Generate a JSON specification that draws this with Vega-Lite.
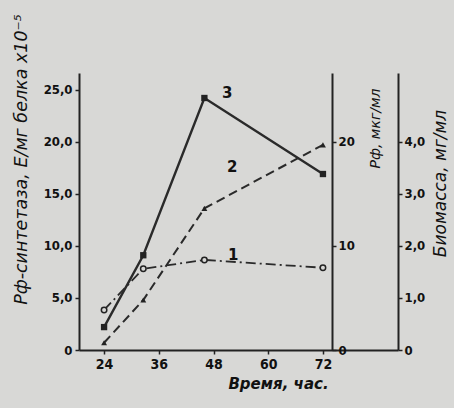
{
  "$schema": "https://vega.github.io/schema/vega-lite/v6.json",
  "width": 319,
  "height": 277,
  "autosize": {"type": "none"},
  "padding": {"left": 79, "top": 73, "right": 56, "bottom": 58},
  "background": "#d8d8d6",
  "config": {
    "view": {"stroke": null},
    "axis": {
      "grid": false,
      "domainColor": "#222222",
      "tickColor": "#222222",
      "labelColor": "#111111",
      "titleColor": "#111111",
      "labelFont": "DejaVu Sans Condensed",
      "titleFont": "DejaVu Sans",
      "labelFontWeight": "bold",
      "domainWidth": 2,
      "tickWidth": 1.5
    }
  },
  "encoding": {
    "x": {
      "field": "t",
      "type": "quantitative",
      "scale": {"domain": [18.5, 88.46], "nice": false, "zero": false},
      "axis": {
        "values": [24, 36, 48, 60, 72],
        "title": "Время, час.",
        "titleFontStyle": "italic",
        "titleFontWeight": "bold",
        "titleFontSize": 15,
        "titleX": 199,
        "titleY": 33,
        "titleBaseline": "middle",
        "labelFontSize": 14,
        "tickSize": 4,
        "labelPadding": 3
      }
    }
  },
  "layer": [
    {
      "data": {"values": [
        {"t": 24, "v": 2.2},
        {"t": 32.6, "v": 9.1},
        {"t": 46, "v": 24.2},
        {"t": 72, "v": 16.9}
      ]},
      "mark": {"type": "line", "color": "#2a2a2a", "strokeWidth": 2.4,
        "point": {"shape": "square", "filled": true, "size": 40, "color": "#222222"}},
      "encoding": {
        "y": {
          "field": "v", "type": "quantitative",
          "scale": {"domain": [0, 26.6], "nice": false},
          "axis": {
            "orient": "left",
            "values": [0, 5, 10, 15, 20, 25],
            "labelExpr": "datum.value == 0 ? '0' : replace(format(datum.value, '.1f'), '.', ',')",
            "labelFontSize": 13,
            "tickSize": 4,
            "labelPadding": 3,
            "title": "Рф-синтетаза, Е/мг белка х10⁻⁵",
            "titleFontStyle": "italic",
            "titleFontSize": 17.5,
            "titleFontWeight": "normal",
            "titleX": -58,
            "titleY": 86,
            "titleAngle": 270,
            "titleBaseline": "middle",
            "titleAlign": "center"
          }
        }
      }
    },
    {
      "data": {"values": [
        {"t": 24, "v": 0.7},
        {"t": 32.6, "v": 4.8},
        {"t": 46, "v": 13.6},
        {"t": 72, "v": 19.7}
      ]},
      "mark": {"type": "line", "color": "#2a2a2a", "strokeWidth": 2, "strokeDash": [9, 5],
        "point": {"shape": "triangle-up", "filled": true, "size": 35, "color": "#222222"}},
      "encoding": {
        "y": {
          "field": "v", "type": "quantitative",
          "scale": {"domain": [0, 26.6], "nice": false},
          "axis": {
            "orient": "right",
            "offset": -66,
            "values": [0, 10, 20],
            "labelFontSize": 13,
            "tickSize": 4,
            "labelPadding": 2,
            "title": "Рф, мкг/мл",
            "titleFontStyle": "italic",
            "titleFontSize": 14,
            "titleFontWeight": "normal",
            "titleX": 43,
            "titleY": 55,
            "titleAngle": 270,
            "titleBaseline": "middle",
            "titleAlign": "center"
          }
        }
      }
    },
    {
      "data": {"values": [
        {"t": 24, "v": 0.77},
        {"t": 32.6, "v": 1.56},
        {"t": 46, "v": 1.73},
        {"t": 72, "v": 1.58}
      ]},
      "mark": {"type": "line", "color": "#2a2a2a", "strokeWidth": 1.8, "strokeDash": [10, 4, 2, 4],
        "point": {"shape": "circle", "filled": false, "fill": "#d8d8d6", "stroke": "#222222", "strokeWidth": 1.5, "size": 30}},
      "encoding": {
        "y": {
          "field": "v", "type": "quantitative",
          "scale": {"domain": [0, 5.32], "nice": false},
          "axis": {
            "orient": "right",
            "offset": 0,
            "values": [0, 1, 2, 3, 4],
            "labelExpr": "datum.value == 0 ? '0' : replace(format(datum.value, '.1f'), '.', ',')",
            "labelFontSize": 13,
            "tickSize": 4,
            "labelPadding": 2,
            "title": "Биомасса, мг/мл",
            "titleFontStyle": "italic",
            "titleFontSize": 17,
            "titleFontWeight": "normal",
            "titleX": 42,
            "titleY": 110,
            "titleAngle": 270,
            "titleBaseline": "middle",
            "titleAlign": "center"
          }
        }
      }
    },
    {
      "data": {"values": [
        {"t": 51.0, "v": 24.7, "label": "3"},
        {"t": 52.1, "v": 17.6, "label": "2"},
        {"t": 52.3, "v": 9.1, "label": "1"}
      ]},
      "mark": {"type": "text", "font": "DejaVu Sans", "fontWeight": "bold", "fontSize": 15, "color": "#111111"},
      "encoding": {
        "y": {"field": "v", "type": "quantitative", "scale": {"domain": [0, 26.6], "nice": false}, "axis": null},
        "text": {"field": "label"}
      }
    }
  ],
  "resolve": {"scale": {"y": "independent"}, "axis": {"y": "independent"}}
}
